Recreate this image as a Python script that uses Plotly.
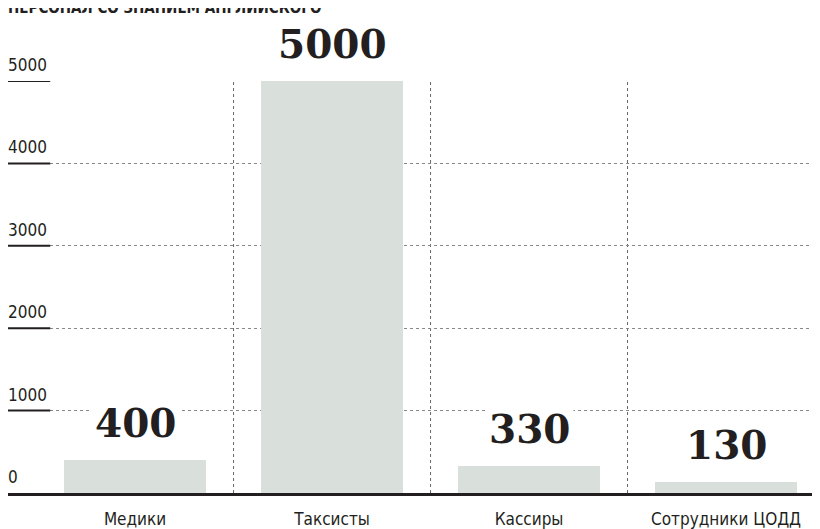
import plotly.graph_objects as go

categories = ["Медики", "Таксисты", "Кассиры", "Сотрудники ЦОДД"]
values = [400, 5000, 330, 130]
label_texts = ["400", "5000", "330", "130"]
y_ticks = [0, 1000, 2000, 3000, 4000, 5000]
y_tick_labels = ["0", "1000", "2000", "3000", "4000", "5000"]
title_text = "ПЕРСОНАЛ СО ЗНАНИЕМ АНГЛИЙСКОГО"

SANS = "Liberation Sans Narrow, DejaVu Sans Condensed, Roboto, sans-serif"
SERIF = "DejaVu Serif, Liberation Serif, serif"
DARK = "#231f20"
BAR = "#d9e0dc"

x = list(range(len(categories)))

fig = go.Figure()
fig.add_trace(go.Bar(
    x=x, y=values, marker=dict(color=BAR, line=dict(width=0)),
    width=0.72, hoverinfo="skip", showlegend=False,
))

annotations = []
for xi, v, t in zip(x, values, label_texts):
    annotations.append(dict(
        x=xi, y=v, xref="x", yref="y", text="<b>%s</b>" % t, showarrow=False,
        yanchor="middle", yshift=37, bgcolor="white", borderpad=3,
        font=dict(family=SERIF, size=39, color=DARK),
    ))
for tv, tl in zip(y_ticks, y_tick_labels):
    annotations.append(dict(
        x=0, y=tv, xref="paper", yref="y", text=tl, showarrow=False,
        xanchor="left", yanchor="middle", yshift=16, xshift=-2,
        font=dict(family=SANS, size=17, color=DARK),
    ))
annotations.append(dict(
    x=0, y=1, xref="paper", yref="paper", text="<b>%s</b>" % title_text,
    showarrow=False, xanchor="left", yanchor="middle", yshift=74, xshift=-2,
    font=dict(family=SANS, size=15, color=DARK),
))

shapes = []
for tv in y_ticks[1:]:
    shapes.append(dict(type="line", xref="paper", yref="y", x0=0, x1=0.052,
                       y0=tv, y1=tv, line=dict(color=DARK, width=2), layer="above"))
for i in range(len(categories) - 1):
    b = i + 0.5
    shapes.append(dict(type="line", xref="x", yref="y", x0=b, x1=b,
                       y0=0, y1=y_ticks[-1], line=dict(color="#666", width=1, dash="dot"),
                       layer="below"))
    shapes.append(dict(type="line", xref="x", yref="y", x0=b, x1=b,
                       ysizemode="pixel", yanchor=0, y0=0, y1=-20,
                       line=dict(color=DARK, width=1.5), layer="above"))

fig.update_layout(
    width=820, height=529,
    margin=dict(l=0, r=8, t=73, b=44),
    paper_bgcolor="white", plot_bgcolor="white",
    bargap=0,
    annotations=annotations, shapes=shapes,
    xaxis=dict(
        range=[-0.645, 3.477], tickvals=x, ticktext=categories,
        showgrid=False, zeroline=False, showline=True, linecolor=DARK, linewidth=3,
        ticks="", ticklabelstandoff=9,
        tickfont=dict(family=SANS, size=17, color=DARK), fixedrange=True,
    ),
    yaxis=dict(
        range=[0, 5000], tickvals=y_ticks, showticklabels=False,
        showgrid=True, gridcolor="#888", griddash="dot", gridwidth=1,
        zeroline=False, showline=False, fixedrange=True,
    ),
)

fig.write_html("out.html")
